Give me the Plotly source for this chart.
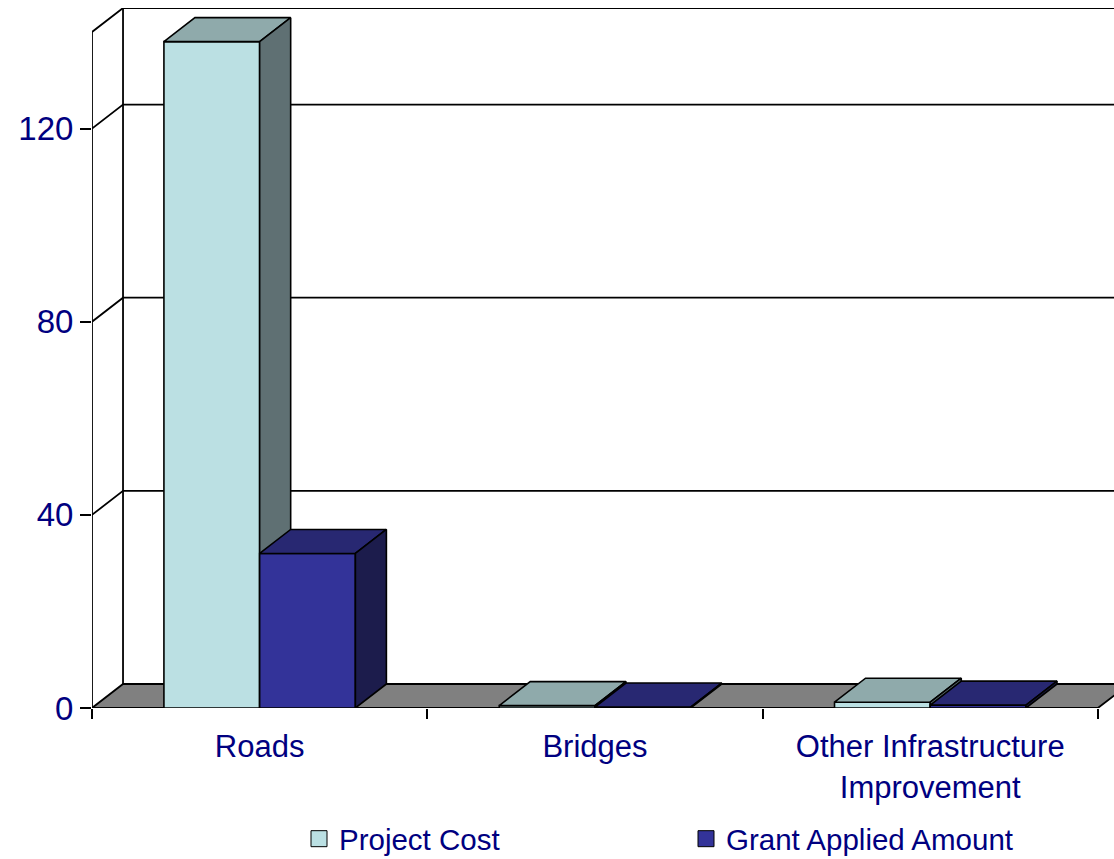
import plotly.graph_objects as go

categories = ["Roads", "Bridges", "Other Infrastructure<br>Improvement"]
project_cost = [138, 0.5, 1.2]
grant_applied = [32, 0.2, 0.6]
series_names = ["Project Cost", "Grant Applied Amount"]
y_ticks = [0, 40, 80, 120]

# style constants
Y_MAX = 140
DX = 0.0925     # depth offset in category units
DY = 4.97       # depth offset in value units
BAR_W = 0.2855
NAVY = "#000080"
FONT = "Arial, Liberation Sans, sans-serif"
face_colors = [
    dict(front="#BBE0E3", top="#8FAAAB", side="#5F7073"),
    dict(front="#333399", top="#282872", side="#1C1C4C"),
]

n = len(categories)
xs = list(range(n))
fig = go.Figure()

def line_trace(x, y, width=1.8):
    fig.add_trace(go.Scatter(x=x, y=y, mode="lines", line=dict(color="black", width=width),
                             hoverinfo="skip", showlegend=False))

def poly_trace(x, y, color, width=1.6):
    fig.add_trace(go.Scatter(x=x, y=y, mode="lines", fill="toself", fillcolor=color,
                             line=dict(color="black", width=width), hoverinfo="skip",
                             showlegend=False))

left = -0.5
right = n - 0.5

# walls and gridlines
line_trace([left, left], [0, Y_MAX])
line_trace([left, left + DX, right + DX], [Y_MAX, Y_MAX + DY, Y_MAX + DY])
line_trace([left + DX, left + DX], [DY, Y_MAX + DY])
for v in y_ticks[1:]:
    line_trace([left, left + DX, right + DX], [v, v + DY, v + DY])

# floor
poly_trace([left, right, right + DX, left + DX, left], [0, 0, DY, DY, 0], "#808080", 1.8)

# bars
for s, vals in enumerate([project_cost, grant_applied]):
    fx, fy, tx, ty, sx, sy = [], [], [], [], [], []
    for i, v in enumerate(vals):
        x0 = xs[i] - BAR_W + s * BAR_W
        x1 = x0 + BAR_W
        fx += [x0, x1, x1, x0, x0, None]
        fy += [0, 0, v, v, 0, None]
        tx += [x0, x1, x1 + DX, x0 + DX, x0, None]
        ty += [v, v, v + DY, v + DY, v, None]
        sx += [x1, x1 + DX, x1 + DX, x1, x1, None]
        sy += [0, DY, v + DY, v, 0, None]
    c = face_colors[s]
    poly_trace(fx, fy, c["front"])
    poly_trace(tx, ty, c["top"])
    poly_trace(sx, sy, c["side"])

# legend entries
for s, name in enumerate(series_names):
    fig.add_trace(go.Scatter(x=[None], y=[None], mode="markers", name=name,
                             marker=dict(symbol="square", size=16, color=face_colors[s]["front"],
                                         line=dict(color="black", width=1))))

W, H = 1114, 859
fig.update_layout(
    width=W, height=H,
    margin=dict(l=92, r=0, t=8, b=151),
    paper_bgcolor="white", plot_bgcolor="white",
    font=dict(family=FONT, color=NAVY),
    showlegend=True,
    legend=dict(orientation="h", xref="container", yref="container",
                x=299 / W, y=(H - 839) / H, xanchor="left", yanchor="middle",
                font=dict(size=29.5, color=NAVY), entrywidth=342, bgcolor="rgba(0,0,0,0)"),
    xaxis=dict(range=[left, left + 1022 / 335.3], tickvals=xs, ticktext=categories,
               ticks="outside", ticklen=11, tickcolor="rgba(0,0,0,0)",
               showgrid=False, zeroline=False, showline=False,
               tickfont=dict(size=31, color=NAVY),
               minor=dict(tickvals=[left + k for k in range(n + 1)], ticks="outside",
                          ticklen=10, tickcolor="black", tickwidth=1.8, showgrid=False),
               fixedrange=True),
    yaxis=dict(range=[0, Y_MAX + DY], tickvals=y_ticks, ticks="outside", ticklen=11,
               tickcolor="black", tickwidth=1.8, showgrid=False, zeroline=False,
               showline=False, tickfont=dict(size=33, color=NAVY), fixedrange=True),
)

fig.write_html("out.html", config={"displayModeBar": False},
               post_script="document.body.style.margin='0';document.body.style.overflow='hidden';")
